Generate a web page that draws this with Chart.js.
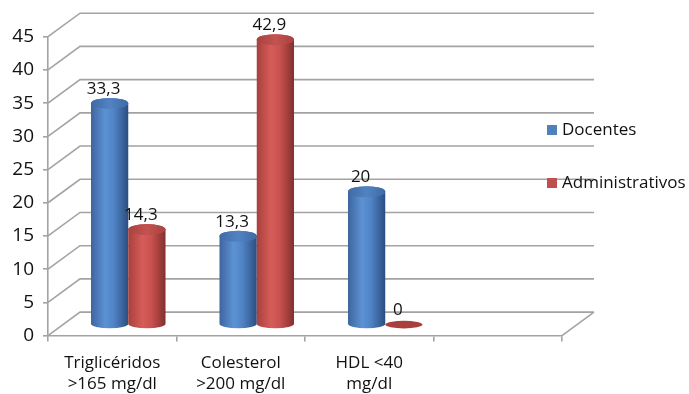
<!DOCTYPE html>
<html>
<head>
<meta charset="utf-8">
<script src="https://cdn.jsdelivr.net/npm/chart.js@4.4.1/dist/chart.umd.min.js"></script>
<style>
  html, body { margin: 0; padding: 0; background: #ffffff; }
  #wrap { width: 689px; height: 394px; position: relative; }
</style>
</head>
<body>
<div id="wrap"><canvas id="chart" width="689" height="394"></canvas></div>
<script>
// Categories (the fourth slot is an empty category on the floor)
const categories = [
  ["Triglicéridos", ">165 mg/dl"],
  ["Colesterol", ">200 mg/dl"],
  ["HDL <40", "mg/dl"],
  ""
];
const docentes = [33.3, 13.3, 20, null];
const administrativos = [14.3, 42.9, 0, null];
const seriesNames = ["Docentes", "Administrativos"];
const yTicks = [0, 5, 10, 15, 20, 25, 30, 35, 40, 45];

const FONT = "'Open Sans', 'Noto Sans', sans-serif";
const GRID = "#a3a3a3";
// depth of the 3D box and of the bar row (half way back)
const DEPTH = { dx: 32, dy: -23.5 };
const ROW = { dx: 16, dy: -11 };

const palette = {
  blue: { edgeL: "#3e659e", hi: "#5c92d4", mid: "#4f83c5", edgeR: "#2c4e80", top: "#3f6ba6", topHi: "#5282c2" },
  red:  { edgeL: "#a8403d", hi: "#d65c58", mid: "#c9514e", edgeR: "#82302e", top: "#a9423f", topHi: "#c25350" }
};

// Walls, floor and gridlines of the 3D box, drawn behind the bars
const boxPlugin = {
  id: "box3d",
  beforeDatasetsDraw(chart) {
    const { ctx, chartArea: a, scales: { y } } = chart;
    ctx.save();
    ctx.strokeStyle = GRID;
    ctx.lineWidth = 1.6;
    ctx.beginPath();
    yTicks.forEach(v => {
      const py = y.getPixelForValue(v);
      // side wall diagonal
      ctx.moveTo(a.left, py);
      ctx.lineTo(a.left + DEPTH.dx, py + DEPTH.dy);
      // back wall line
      ctx.lineTo(a.right + DEPTH.dx, py + DEPTH.dy);
    });
    // floor right edge
    const y0 = y.getPixelForValue(0);
    ctx.moveTo(a.right, y0);
    ctx.lineTo(a.right + DEPTH.dx, y0 + DEPTH.dy);
    ctx.stroke();
    ctx.restore();
  }
};

function cylinder(ctx, bar, colors) {
  const w = bar.width;
  const left = bar.x - w / 2, right = bar.x + w / 2;
  const rx = w / 2;
  const top = bar.y, base = bar.base;
  const ryTop = 5.5, ryBot = 4.5;
  if (Math.abs(base - top) < 0.5) {
    // zero value: flat disc on the floor
    ctx.beginPath();
    ctx.ellipse(bar.x, base, rx, 3.8, 0, 0, Math.PI * 2);
    ctx.fillStyle = colors.edgeL;
    ctx.fill();
    return;
  }
  const g = ctx.createLinearGradient(left, 0, right, 0);
  g.addColorStop(0, colors.edgeL);
  g.addColorStop(0.38, colors.hi);
  g.addColorStop(0.62, colors.mid);
  g.addColorStop(1, colors.edgeR);
  ctx.beginPath();
  ctx.moveTo(left, top);
  ctx.lineTo(left, base);
  ctx.ellipse(bar.x, base, rx, ryBot, 0, Math.PI, 0, true);
  ctx.lineTo(right, top);
  ctx.ellipse(bar.x, top, rx, ryTop, 0, 0, Math.PI, true);
  ctx.closePath();
  ctx.fillStyle = g;
  ctx.fill();
  const gt = ctx.createLinearGradient(left, 0, right, 0);
  gt.addColorStop(0, colors.top);
  gt.addColorStop(0.5, colors.topHi);
  gt.addColorStop(1, colors.top);
  ctx.beginPath();
  ctx.ellipse(bar.x, top, rx, ryTop, 0, 0, Math.PI * 2);
  ctx.fillStyle = gt;
  ctx.fill();
}

// Cylinders and value labels, drawn from the bar elements placed by the scales
const cylinderPlugin = {
  id: "cylinders",
  afterDatasetsDraw(chart) {
    const { ctx } = chart;
    const cols = [palette.blue, palette.red];
    ctx.save();
    ctx.translate(ROW.dx, ROW.dy);
    chart.data.datasets.forEach((ds, di) => {
      const meta = chart.getDatasetMeta(di);
      meta.data.forEach((bar, i) => {
        if (ds.data[i] === null || ds.data[i] === undefined) return;
        cylinder(ctx, bar, cols[di]);
      });
    });
    ctx.fillStyle = "#111111";
    ctx.font = "17px " + FONT;
    ctx.textAlign = "center";
    ctx.textBaseline = "middle";
    chart.data.datasets.forEach((ds, di) => {
      const meta = chart.getDatasetMeta(di);
      meta.data.forEach((bar, i) => {
        const v = ds.data[i];
        if (v === null || v === undefined) return;
        const txt = String(v).replace(".", ",");
        ctx.fillText(txt, bar.x - 6, bar.y - 14.5);
      });
    });
    ctx.restore();
  }
};

// Legend on the right
const legendPlugin = {
  id: "sideLegend",
  afterDraw(chart) {
    const { ctx } = chart;
    const items = [
      { name: seriesNames[0], color: "#4f81bd", y: 130 },
      { name: seriesNames[1], color: "#c0504d", y: 183 }
    ];
    ctx.save();
    ctx.font = "17px " + FONT;
    ctx.textBaseline = "middle";
    ctx.textAlign = "left";
    items.forEach(it => {
      ctx.fillStyle = it.color;
      ctx.fillRect(547, it.y - 5, 10, 10);
      ctx.fillStyle = "#111111";
      ctx.fillText(it.name, 562, it.y);
    });
    ctx.restore();
  }
};

new Chart(document.getElementById("chart"), {
  type: "bar",
  data: {
    labels: categories,
    datasets: [
      { label: seriesNames[0], data: docentes, backgroundColor: "rgba(0,0,0,0)", barPercentage: 1, categoryPercentage: 0.58 },
      { label: seriesNames[1], data: administrativos, backgroundColor: "rgba(0,0,0,0)", barPercentage: 1, categoryPercentage: 0.58 }
    ]
  },
  options: {
    responsive: false,
    animation: false,
    events: [],
    layout: { padding: { top: 36.7, right: 127, left: 0, bottom: 0 } },
    plugins: { legend: { display: false }, tooltip: { enabled: false } },
    scales: {
      x: {
        offset: true,
        grid: { offset: true, drawOnChartArea: false, drawTicks: true, tickLength: 6, color: GRID, lineWidth: 1.6 },
        border: { display: true, color: GRID, width: 1.6 },
        ticks: { color: "#111111", padding: 11, maxRotation: 0, autoSkip: false, font: { family: FONT, size: 17, lineHeight: 1.25 } },
        afterFit(s) { s.height = 394 - 335.6; }
      },
      y: {
        min: 0, max: 45,
        ticks: { stepSize: 5, color: "#111111", padding: 9, font: { family: FONT, size: 19 } },
        grid: { drawOnChartArea: false, drawTicks: true, tickLength: 5, color: GRID, lineWidth: 1.6 },
        border: { display: true, color: GRID, width: 1.6 },
        afterFit(s) { s.width = 48; }
      }
    }
  },
  plugins: [boxPlugin, cylinderPlugin, legendPlugin]
});
</script>
</body>
</html>
